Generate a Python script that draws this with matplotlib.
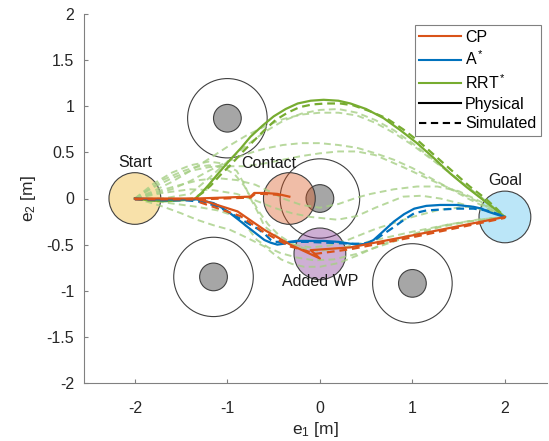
import numpy as np
import matplotlib.pyplot as plt
import matplotlib.patches as pat
from matplotlib.lines import Line2D

plt.rcParams['font.family'] = ['Liberation Sans', 'DejaVu Sans']
plt.rcParams['mathtext.fontset'] = 'custom'
plt.rcParams['mathtext.rm'] = 'Liberation Sans'
plt.rcParams['mathtext.it'] = 'Liberation Sans'

# circles: (x, y, r)
start = (-2.0, 0.0, 0.28)
goal = (2.0, -0.2, 0.28)
contact = (-0.33, 0.0, 0.28)
added_wp = (0.0, -0.6, 0.28)
obstacles = [(-1.0, 0.87), (0.0, 0.0), (-1.15, -0.85), (1.0, -0.92)]
obs_outer = 0.43
obs_inner = 0.15

# CP (contact planning) paths
cp_phys_x = [-2.0, -1.33, -0.75, -0.71, -0.6, -0.46, -0.33, np.nan,
             -1.33, -0.89, -0.6, -0.32, 0.0, -0.1, 0.33, 1.0, 2.0]
cp_phys_y = [0.0, 0.0, 0.02, 0.06, 0.06, 0.05, 0.02, np.nan,
             0.0, -0.14, -0.34, -0.5, -0.65, -0.56, -0.53, -0.4, -0.2]
cp_sim_x = [-2.0, -1.33, -0.75, -0.7, -0.6, -0.46, -0.38, np.nan,
            -1.3, -0.86, -0.6, -0.32, -0.14, -0.05, 0.33, 1.0, 2.0]
cp_sim_y = [-0.01, -0.01, 0.01, 0.05, 0.05, 0.04, 0.02, np.nan,
            -0.04, -0.19, -0.37, -0.52, -0.57, -0.6, -0.55, -0.42, -0.21]

# A* paths
astar_phys_x = [-2.0, -1.7, -1.45, -1.33, -1.24, -1.15, -1.06, -0.97, -0.88,
                -0.78, -0.69, -0.6, -0.53, -0.46, -0.39, -0.32, -0.26, -0.1,
                0.04, 0.2, 0.33, 0.42, 0.5, 0.58, 0.68, 0.8, 0.91, 1.02, 1.15,
                1.3, 1.48, 1.66, 1.75, 1.81, 1.9, 2.0]
astar_phys_y = [0.0, -0.01, -0.01, -0.01, -0.03, -0.05, -0.1, -0.16, -0.23,
                -0.31, -0.38, -0.45, -0.48, -0.5, -0.49, -0.47, -0.46, -0.46,
                -0.46, -0.47, -0.49, -0.5, -0.49, -0.45, -0.36, -0.25, -0.17,
                -0.11, -0.08, -0.07, -0.07, -0.09, -0.11, -0.14, -0.17, -0.2]
astar_sim_x = [-2.0, -1.7, -1.45, -1.33, -1.22, -1.1, -0.98, -0.86, -0.76,
               -0.67, -0.59, -0.53, -0.5, -0.3, -0.14, 0.1, 0.33, 0.45, 0.52,
               0.58, 0.68, 0.8, 0.91, 1.02, 1.15, 1.3, 1.48, 1.66, 1.8, 1.9, 2.0]
astar_sim_y = [-0.01, -0.02, -0.02, -0.03, -0.05, -0.09, -0.15, -0.22, -0.28,
               -0.33, -0.39, -0.45, -0.47, -0.47, -0.47, -0.48, -0.49, -0.49,
               -0.48, -0.46, -0.39, -0.31, -0.23, -0.16, -0.13, -0.12, -0.11,
               -0.11, -0.13, -0.16, -0.2]

# RRT* paths
rrt_phys_x = [-2.0, -1.85, -1.68, -1.5, -1.36, -1.28, -1.2, -1.1, -0.97, -0.85,
              -0.75, -0.62, -0.5, -0.37, -0.24, -0.1, 0.04, 0.2, 0.33, 0.5,
              0.69, 0.87, 1.05, 1.23, 1.41, 1.59, 1.77, 1.9, 2.0]
rrt_phys_y = [0.0, -0.02, -0.03, -0.02, -0.01, 0.06, 0.15, 0.27, 0.42, 0.55,
              0.67, 0.79, 0.89, 0.97, 1.03, 1.06, 1.07, 1.06, 1.03, 0.97,
              0.87, 0.74, 0.6, 0.44, 0.27, 0.12, -0.02, -0.12, -0.2]
rrt_sim_x = [-2.0, -1.85, -1.68, -1.5, -1.36, -1.27, -1.18, -1.08, -0.95, -0.83,
             -0.72, -0.6, -0.48, -0.35, -0.22, -0.08, 0.06, 0.22, 0.36, 0.53,
             0.72, 0.9, 1.08, 1.26, 1.44, 1.62, 1.79, 1.91, 2.0]
rrt_sim_y = [0.0, -0.02, -0.02, -0.01, 0.0, 0.06, 0.14, 0.25, 0.38, 0.51,
             0.62, 0.74, 0.85, 0.93, 0.99, 1.02, 1.03, 1.03, 1.01, 0.95,
             0.87, 0.75, 0.61, 0.45, 0.29, 0.13, 0.0, -0.11, -0.2]

# RRT* sampled (simulated) trajectories
rrt_samples = [
    ([-2, -1.8, -1.6, -1.4, -1.2, -1.0, -0.8, -0.6, -0.4, -0.2, 0, 0.2, 0.4,
      0.6, 0.8, 1.0, 1.2, 1.4, 1.6, 1.8, 2.0],
     [0, 0.08, 0.18, 0.3, 0.43, 0.56, 0.68, 0.78, 0.86, 0.91, 0.93, 0.93, 0.9,
      0.82, 0.71, 0.58, 0.43, 0.28, 0.12, -0.03, -0.2]),
    ([-2, -1.7, -1.4, -1.2, -1.0, -0.8, -0.6, -0.4, -0.2, 0, 0.2, 0.4, 0.6,
      0.8, 1.0, 1.2, 1.4, 1.6, 1.8, 2.0],
     [0, 0.0, 0.05, 0.22, 0.4, 0.57, 0.72, 0.84, 0.92, 0.96, 0.97, 0.93, 0.85,
      0.74, 0.6, 0.44, 0.28, 0.12, -0.03, -0.2]),
    ([-2, -1.8, -1.6, -1.4, -1.2, -1.0, -0.8, -0.6, -0.4, -0.2, 0, 0.2, 0.4,
      0.6, 0.8, 1.0, 1.2, 1.4, 1.6, 1.8, 2],
     [0, 0.05, 0.1, 0.19, 0.3, 0.4, 0.48, 0.54, 0.58, 0.6, 0.6, 0.58, 0.55,
      0.49, 0.42, 0.33, 0.22, 0.11, 0.0, -0.1, -0.2]),
    ([-2, -1.8, -1.6, -1.4, -1.2, -1.0, -0.8, -0.6, -0.4, -0.2, 0, 0.2, 0.4,
      0.6, 0.9, 1.2, 1.45, 1.7, 2],
     [0, 0.12, 0.22, 0.3, 0.34, 0.35, 0.35, 0.38, 0.42, 0.46, 0.49, 0.51, 0.51,
      0.47, 0.34, 0.2, 0.09, -0.03, -0.2]),
    ([-2, -1.85, -1.7, -1.5, -1.35, -1.2, -1.05, -0.92, -0.82, -0.74, -0.66,
      -0.56, -0.44, -0.3, -0.15, 0, 0.3, 0.6, 1.0, 1.4, 1.7, 2],
     [0, 0.1, 0.2, 0.29, 0.34, 0.36, 0.34, 0.26, 0.14, 0.0, -0.14, -0.28,
      -0.4, -0.49, -0.55, -0.57, -0.52, -0.45, -0.36, -0.28, -0.23, -0.2]),
    ([-2, -1.85, -1.69, -1.5, -1.33, -1.15, -0.97, -0.8, -0.6, -0.5, -0.42,
      -0.3, -0.17, 0, 0.2, 0.4, 0.55, 0.8, 1.09, 1.35, 1.6, 1.8, 2],
     [0, -0.04, -0.09, -0.16, -0.23, -0.29, -0.34, -0.42, -0.52, -0.6, -0.66,
      -0.71, -0.74, -0.74, -0.7, -0.62, -0.55, -0.45, -0.36, -0.29, -0.25,
      -0.22, -0.2]),
    ([-2, -1.7, -1.33, -1.1, -0.89, -0.78, -0.68, -0.56, -0.43, -0.25, -0.06,
      0.15, 0.4, 0.7, 1.0, 1.3, 1.6, 2],
     [0, -0.04, -0.09, -0.13, -0.2, -0.32, -0.45, -0.53, -0.59, -0.64, -0.67,
      -0.66, -0.6, -0.5, -0.4, -0.31, -0.25, -0.2]),
    ([-2, -1.75, -1.5, -1.3, -1.1, -0.9, -0.7, -0.55, -0.4, -0.2, 0, 0.2, 0.4,
      0.55, 0.8, 1.05, 1.27, 1.5, 1.75, 2],
     [0, 0.08, 0.15, 0.2, 0.22, 0.2, 0.15, 0.08, 0.0, -0.07, -0.1, -0.06, 0.01,
      0.05, 0.1, 0.13, 0.13, 0.08, -0.04, -0.2]),
    ([-2, -1.7, -1.4, -1.15, -0.9, -0.7, -0.5, -0.3, -0.1, 0.19, 0.4, 0.6,
      0.75, 0.9, 1.1, 1.3, 1.5, 1.75, 2],
     [0, 0.06, 0.1, 0.09, 0.05, -0.02, -0.1, -0.16, -0.2, -0.23, -0.19, -0.1,
      -0.04, 0.02, 0.03, 0.0, -0.05, -0.12, -0.2]),
    ([-2, -1.8, -1.6, -1.4, -1.2, -1.05, -0.9, -0.82, -0.75, -0.67, -0.6,
      -0.45, -0.3, -0.1, 0.1, 0.3, 0.6, 1.0, 1.3, 1.6, 1.8, 2],
     [0, 0.16, 0.28, 0.36, 0.4, 0.38, 0.3, 0.16, 0.0, -0.15, -0.3, -0.42,
      -0.5, -0.53, -0.51, -0.45, -0.33, -0.2, -0.12, -0.09, -0.12, -0.2]),
]

c_cp = '#D95319'
c_astar = '#0072BD'
c_rrt = '#77AC30'
c_sample = '#A6CF85'
dash = (0, (3.5, 2.2))

fig = plt.figure(figsize=(5.49, 4.41), dpi=100)
ax = fig.add_axes([84 / 549, 58 / 441, 463 / 549, 369 / 441])

# obstacles
for ox, oy in obstacles:
    ax.add_patch(pat.Circle((ox, oy), obs_outer, facecolor='none',
                            edgecolor='#404040', linewidth=0.8, zorder=1))
    ax.add_patch(pat.Circle((ox, oy), obs_inner, facecolor='#a6a6a6',
                            edgecolor='#404040', linewidth=0.8, zorder=1))

# waypoint circles
for (cx, cy, r), col in [(start, '#EDB120'), (goal, '#4DBEEE'),
                         (contact, '#D95319'), (added_wp, '#7E2F8E')]:
    ax.add_patch(pat.Circle((cx, cy), r, facecolor=col, alpha=0.38,
                            edgecolor='none', zorder=2))
    ax.add_patch(pat.Circle((cx, cy), r, facecolor='none',
                            edgecolor='#404040', linewidth=0.8, zorder=2))

for sx, sy in rrt_samples:
    ax.plot(sx, sy, color=c_sample, linestyle=dash, linewidth=1.4,
            alpha=0.8, zorder=3)

ax.plot(rrt_sim_x, rrt_sim_y, color=c_rrt, linestyle=dash, lw=1.6, zorder=4)
ax.plot(rrt_phys_x, rrt_phys_y, color=c_rrt, lw=1.6, zorder=4)
ax.plot(astar_sim_x, astar_sim_y, color=c_astar, linestyle=dash, lw=1.6, zorder=5)
ax.plot(astar_phys_x, astar_phys_y, color=c_astar, lw=1.6, zorder=5)
ax.plot(cp_sim_x, cp_sim_y, color=c_cp, linestyle=dash, lw=1.6, zorder=6)
ax.plot(cp_phys_x, cp_phys_y, color=c_cp, lw=1.6, zorder=6)

ax.text(-2.0, 0.39, 'Start', ha='center', va='center', fontsize=11.5, color='#1a1a1a')
ax.text(-0.55, 0.38, 'Contact', ha='center', va='center', fontsize=11.5, color='#1a1a1a')
ax.text(2.0, 0.2, 'Goal', ha='center', va='center', fontsize=11.5, color='#1a1a1a')
ax.text(0.0, -0.9, 'Added WP', ha='center', va='center', fontsize=11.5, color='#1a1a1a')

ax.set_xlim(-2.55, 2.455)
ax.set_ylim(-2, 2)
ax.set_xticks([-2, -1, 0, 1, 2])
ax.set_yticks([-2, -1.5, -1, -0.5, 0, 0.5, 1, 1.5, 2])
ax.set_yticklabels(['-2', '-1.5', '-1', '-0.5', '0', '0.5', '1', '1.5', '2'])
ax.set_xticklabels(['-2', '-1', '0', '1', '2'])
for s in ['top', 'right']:
    ax.spines[s].set_visible(False)
for s in ['left', 'bottom']:
    ax.spines[s].set_color('#808080')
ax.tick_params(direction='in', length=3, colors='#808080', labelcolor='#262626',
               labelsize=11.5)
ax.tick_params(axis='x', pad=13)
ax.tick_params(axis='y', pad=7)
ax.set_xlabel('e$_1$ [m]', fontsize=12.5, color='#262626', labelpad=3)
ax.set_ylabel('e$_2$ [m]', fontsize=12.5, color='#262626', labelpad=6)

handles = [Line2D([], [], color=c_cp, lw=1.5),
           Line2D([], [], color=c_astar, lw=1.5),
           Line2D([], [], color=c_rrt, lw=1.5),
           Line2D([], [], color='black', lw=1.5),
           Line2D([], [], color='black', lw=1.5, linestyle=dash)]
labels = ['CP', 'A$^*$', 'RRT$^*$', 'Physical', 'Simulated']
leg = ax.legend(handles, labels, loc='upper right', bbox_to_anchor=(0.987, 0.97),
                borderaxespad=0, fontsize=11.5, fancybox=False, framealpha=1,
                edgecolor='#808080', handlelength=2.6, handletextpad=0.25,
                labelspacing=0.3, borderpad=0.3)
leg.get_frame().set_linewidth(0.8)

fig.savefig('out.png', dpi=100)
